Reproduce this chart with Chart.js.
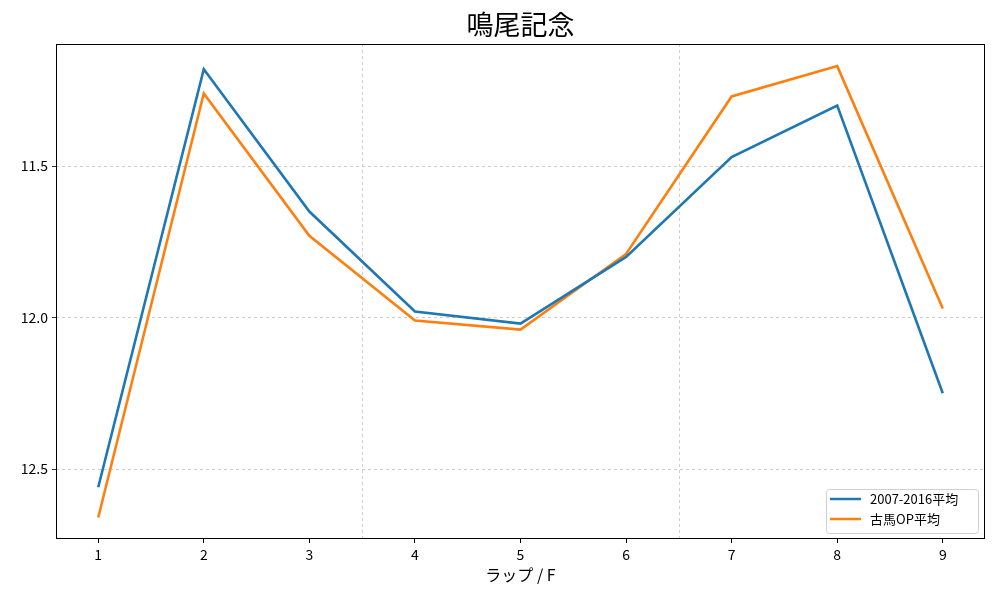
<!DOCTYPE html>
<html>
<head>
<meta charset="utf-8">
<script src="https://cdn.jsdelivr.net/npm/chart.js@4"></script>
<style>
  body { margin: 0; background: #fff; }
  #wrap { width: 1000px; height: 600px; }
</style>
</head>
<body>
<div id="wrap"><canvas id="lapChart" width="1000" height="600"></canvas></div>
<script>
const chartTitle = '鳴尾記念';
const laps = [1, 2, 3, 4, 5, 6, 7, 8, 9];
const avg2007 = [12.56, 11.18, 11.65, 11.98, 12.02, 11.80, 11.47, 11.30, 12.25];
const avgOpen = [12.66, 11.26, 11.73, 12.01, 12.04, 11.79, 11.27, 11.17, 11.97];
const yTicks = [11.5, 12.0, 12.5];
const sectionLines = [3.5, 6.5];

const FONT = '"Noto Sans CJK JP", "DejaVu Sans", sans-serif';

// title over the plot, dashed vertical lines, frame and legend box
const extras = {
    id: 'extras',
    beforeDatasetsDraw(chart) {
        const { ctx, chartArea, scales } = chart;
        ctx.save();
        ctx.strokeStyle = '#c0c0c0';
        ctx.lineWidth = 0.8;
        ctx.setLineDash([3, 3]);
        sectionLines.forEach(v => {
            const x = Math.round(scales.x.getPixelForValue(v)) + 0.5;
            ctx.beginPath();
            ctx.moveTo(x, chartArea.top);
            ctx.lineTo(x, chartArea.bottom);
            ctx.stroke();
        });
        ctx.restore();
    },
    afterDraw(chart) {
        const { ctx, chartArea } = chart;
        ctx.save();
        ctx.fillStyle = '#000';
        ctx.font = '27px ' + FONT;
        ctx.textAlign = 'center';
        ctx.textBaseline = 'middle';
        ctx.fillText(chartTitle, (chartArea.left + chartArea.right) / 2, 25);

        ctx.strokeStyle = '#000';
        ctx.lineWidth = 1;
        ctx.strokeRect(chartArea.left + 0.5, chartArea.top + 0.5,
            chartArea.right - chartArea.left - 1, chartArea.bottom - chartArea.top - 1);

        // legend
        const bx = chartArea.right - 159, by = chartArea.bottom - 50, bw = 152, bh = 44;
        ctx.fillStyle = 'rgba(255,255,255,0.8)';
        ctx.strokeStyle = '#d0d0d0';
        ctx.beginPath();
        ctx.roundRect(bx + 0.5, by + 0.5, bw, bh, 3);
        ctx.fill();
        ctx.stroke();
        ctx.font = '13px ' + FONT;
        ctx.textAlign = 'left';
        ctx.textBaseline = 'middle';
        chart.data.datasets.forEach((ds, i) => {
            const yy = by + 10 + i * 20;
            ctx.strokeStyle = ds.borderColor;
            ctx.lineWidth = 2.5;
            ctx.beginPath();
            ctx.moveTo(bx + 4, yy);
            ctx.lineTo(bx + 35, yy);
            ctx.stroke();
            ctx.fillStyle = '#000';
            ctx.fillText(ds.label, bx + 44, yy);
        });
        ctx.restore();
    }
};

new Chart(document.getElementById('lapChart'), {
    type: 'line',
    data: {
        datasets: [
            {
                label: '2007-2016平均',
                data: laps.map((x, i) => ({ x: x, y: avg2007[i] })),
                borderColor: '#1f77b4',
                borderWidth: 2.6,
                pointRadius: 0,
                tension: 0
            },
            {
                label: '古馬OP平均',
                data: laps.map((x, i) => ({ x: x, y: avgOpen[i] })),
                borderColor: '#ff7f0e',
                borderWidth: 2.6,
                pointRadius: 0,
                tension: 0
            }
        ]
    },
    options: {
        responsive: false,
        animation: false,
        layout: { padding: { left: 0, right: 15, top: 44, bottom: 0 } },
        plugins: {
            legend: { display: false },
            tooltip: { enabled: false },
            title: { display: false }
        },
        scales: {
            x: {
                type: 'linear',
                min: 0.6,
                max: 9.4,
                afterBuildTicks: s => { s.ticks = laps.map(v => ({ value: v })); },
                afterFit: s => { s.height = 61; },
                ticks: {
                    color: '#000',
                    font: { family: FONT, size: 14 },
                    padding: 3,
                    maxRotation: 0
                },
                grid: {
                    drawOnChartArea: false,
                    drawTicks: true,
                    tickLength: 4,
                    tickColor: '#000'
                },
                border: { display: false },
                title: {
                    display: true,
                    text: 'ラップ / F',
                    color: '#000',
                    font: { family: FONT, size: 16 },
                    padding: { top: 2, bottom: 15 }
                }
            },
            y: {
                type: 'linear',
                reverse: true,
                min: 11.097,
                max: 12.731,
                afterBuildTicks: s => { s.ticks = yTicks.map(v => ({ value: v })); },
                afterFit: s => { s.width = 56; },
                ticks: {
                    color: '#000',
                    font: { family: FONT, size: 14 },
                    padding: 4,
                    callback: v => Number(v).toFixed(1)
                },
                grid: {
                    color: '#c0c0c0',
                    lineWidth: 0.8,
                    tickLength: 4,
                    tickColor: '#000',
                    tickBorderDash: []
                },
                border: { display: false, dash: [3, 3] }
            }
        }
    },
    plugins: [extras]
});
</script>
</body>
</html>
